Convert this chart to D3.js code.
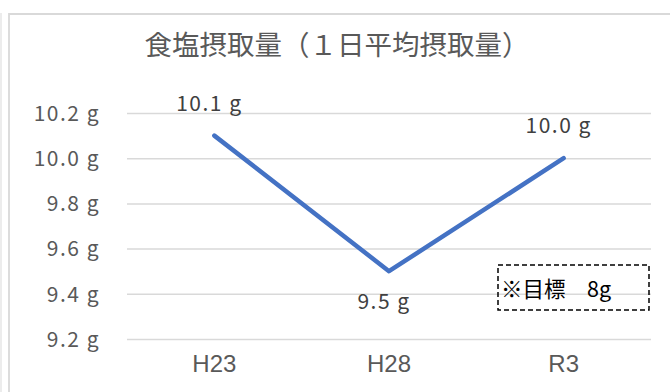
<!DOCTYPE html>
<html><head><meta charset="utf-8">
<script src="https://cdn.jsdelivr.net/npm/d3@7"></script>
<style>
html,body{margin:0;padding:0;background:#fff;}
svg{display:block;}
</style></head>
<body>
<script>
const title = "食塩摂取量（１日平均摂取量）";
const categories = ["H23", "H28", "R3"];
const values = [10.1, 9.5, 10.0];
const labelText = ["10.1 g", "9.5 g", "10.0 g"];
const labelPlace = ["above", "below", "above"];
const yTicks = [9.2, 9.4, 9.6, 9.8, 10.0, 10.2];
const yDomain = [9.2, 10.2];
const noteText = "※目標　8g";

(function () {
const W = 670, H = 392;
const svg = d3.select("body").append("svg").attr("width", W).attr("height", H);

// outer frames
svg.append("line").attr("x1", 1).attr("x2", 1).attr("y1", 13).attr("y2", H)
  .attr("stroke", "#d9d9d9").attr("stroke-width", 1);
svg.append("path").attr("d", `M9,${H} V14 H${W}`).attr("fill", "none")
  .attr("stroke", "#d9d9d9").attr("stroke-width", 1.8);

const font = "'Noto Sans CJK JP', 'Noto Sans', sans-serif";

svg.append("text").attr("x", 337).attr("y", 55).attr("text-anchor", "middle")
  .attr("font-family", font).attr("font-size", 27.5).attr("fill", "#595959")
  .text(title);

const pl = 127, pr = 651, pt = 113, pb = 339;
const x = d3.scaleBand().domain(categories).range([pl, pr]).padding(0);
const y = d3.scaleLinear().domain(yDomain).range([pb, pt]);

// gridlines
const grid = d3.axisLeft(y).tickValues(yTicks).tickSize(-(pr - pl)).tickFormat("");
const gg = svg.append("g").attr("transform", `translate(${pl},0)`).call(grid);
gg.select(".domain").remove();
gg.selectAll(".tick line").attr("stroke", "#d9d9d9").attr("stroke-width", 1.5);

// y labels
const yAxis = d3.axisLeft(y).tickValues(yTicks).tickSize(0).tickPadding(27)
  .tickFormat(d => d.toFixed(1) + " g");
const ya = svg.append("g").attr("transform", `translate(${pl},0)`).call(yAxis);
ya.select(".domain").remove();
ya.selectAll("text").attr("font-family", font).attr("font-size", 21)
  .attr("fill", "#595959").attr("dy", "0.35em").attr("letter-spacing", 1.5);

// x labels
const xAxis = d3.axisBottom(x).tickSize(0).tickPadding(16);
const xa = svg.append("g").attr("transform", `translate(0,${pb})`).call(xAxis);
xa.select(".domain").remove();
xa.selectAll("text").attr("font-family", "'Liberation Sans', Arial, sans-serif")
  .attr("font-size", 24).attr("fill", "#595959").attr("dy", "0.71em");

// line
const cx = d => x(d) + x.bandwidth() / 2;
const line = d3.line().x((d, i) => cx(categories[i])).y(d => y(d));
svg.append("path").datum(values).attr("d", line).attr("fill", "none")
  .attr("stroke", "#4472c4").attr("stroke-width", 4.5)
  .attr("stroke-linecap", "round").attr("stroke-linejoin", "round");

// data labels
svg.selectAll(".dl").data(values).enter().append("text")
  .attr("x", (d, i) => cx(categories[i]) - 5)
  .attr("y", (d, i) => labelPlace[i] === "above" ? y(d) - 25 : y(d) + 38)
  .attr("text-anchor", "middle").attr("font-family", font).attr("font-size", 21)
  .attr("letter-spacing", 1.5).attr("fill", "#404040")
  .text((d, i) => labelText[i]);

// note box
svg.append("rect").attr("x", 498).attr("y", 265).attr("width", 151).attr("height", 45)
  .attr("fill", "none").attr("stroke", "#000").attr("stroke-width", 1.5)
  .attr("stroke-dasharray", "5,3");
svg.append("text").attr("x", 501).attr("y", 297).attr("font-family", font)
  .attr("font-size", 21.5).attr("fill", "#000").text(noteText);
})();
</script>
</body></html>
